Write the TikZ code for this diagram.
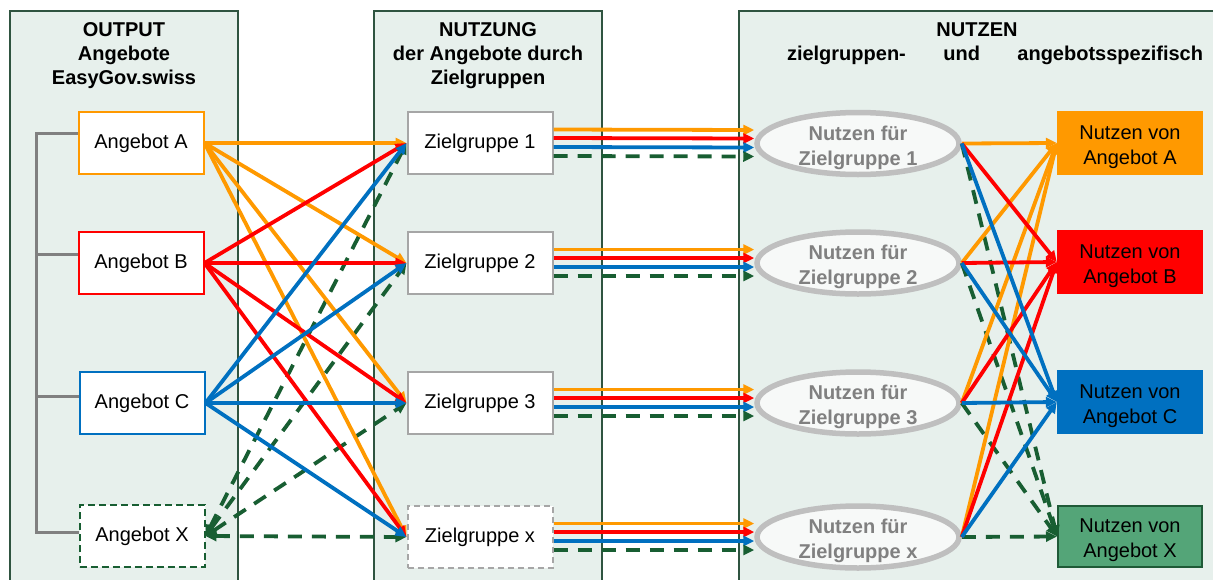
\documentclass[tikz,border=0pt]{standalone}
\usepackage{fontspec}
\setmainfont{Liberation Sans}
\usetikzlibrary{arrows.meta,shapes.geometric}
\definecolor{cOr}{RGB}{255,153,0}
\definecolor{cRd}{RGB}{255,0,0}
\definecolor{cBl}{RGB}{0,112,192}
\definecolor{cDg}{RGB}{24,94,50}
\definecolor{cPanel}{RGB}{231,240,236}
\definecolor{cPanelB}{RGB}{47,84,64}
\definecolor{cBr}{RGB}{128,128,128}
\definecolor{cZg}{RGB}{166,166,166}
\definecolor{cEl}{RGB}{191,191,191}
\definecolor{cElF}{RGB}{247,249,248}
\definecolor{cXf}{RGB}{84,165,120}
\definecolor{cXb}{RGB}{31,90,55}
\tikzset{
  fnt/.style={font=\fontsize{20}{24}\selectfont},
  panel/.style={fill=cPanel,draw=cPanelB,line width=1.6pt},
  title/.style={font=\fontsize{20}{24}\selectfont\bfseries,align=center,anchor=base,inner sep=0pt},
  angbox/.style={fnt,draw,fill=white,line width=2pt,minimum width=125pt,minimum height=62pt,inner sep=0pt},
  zgbox/.style={fnt,draw=cZg,fill=white,line width=2pt,minimum width=145pt,minimum height=62pt,inner sep=0pt},
  nbox/.style={minimum width=146pt,minimum height=64pt,inner sep=0pt},
  nell/.style={ellipse,draw=cEl,fill=cElF,line width=5.5pt,minimum width=202pt,minimum height=62pt,inner sep=0pt},
  nlbl/.style={font=\fontsize{20}{25}\selectfont,align=center,inner sep=0pt},
  elbl/.style={font=\fontsize{20}{25}\selectfont\bfseries,text=cBr,align=center,inner sep=0pt},
  arr/.style={line width=3.8pt,-{Triangle[length=11pt,width=10pt]}},
  darr/.style={line width=3.8pt,color=cDg,dash pattern=on 14pt off 10pt,-{Triangle[length=11pt,width=10pt]}},
  ddarr/.style={line width=3.8pt,color=cDg,dash pattern=on 14pt off 10pt,{Triangle[length=11pt,width=10pt]}-{Triangle[length=11pt,width=10pt]}},
  brk/.style={draw=cBr,line width=3pt}
}
\begin{document}
\begin{tikzpicture}[x=1pt,y=-1pt]
\useasboundingbox (0,0) rectangle (1213,579);
\clip (0,0) rectangle (1213,579);
% panels
\path[panel] (10,11) rectangle (238,600);
\path[panel] (374,11) rectangle (602,600);
\path[panel] (739,11) rectangle (1230,600);
% titles
\node[title] (t1) at (124,84) {OUTPUT\\Angebote\\EasyGov.swiss};
\node[title] (t2) at (488,84) {NUTZUNG\\der Angebote durch\\Zielgruppen};
\node[title] (t3) at (977,36) {NUTZEN};
\node[title] (t3b) at (995,60) {\makebox[416pt]{zielgruppen-\hfill und\hfill angebotsspezifisch}};
% angebot boxes
\node[angbox,draw=cOr] (aA) at (141,143) {Angebot A};
\node[angbox,draw=cRd] (aB) at (141,263) {Angebot B};
\node[angbox,draw=cBl] (aC) at (142,403) {Angebot C};
\node[angbox,draw=cDg,dash pattern=on 7pt off 4pt] (aX) at (142,536) {Angebot X};
% bracket
\coordinate (bt) at (36,133);
\coordinate (bb) at (36,532);
\draw[brk] (aA.west |- 0,133) -- (bt) -- (bb) -- (aX.west |- 0,532);
\draw[brk] (36,254) -- (aB.west |- 0,254);
\draw[brk] (36,396) -- (aC.west |- 0,396);
% zielgruppen
\node[zgbox] (z1) at (480,143) {Zielgruppe 1};
\node[zgbox] (z2) at (480,263) {Zielgruppe 2};
\node[zgbox] (z3) at (480,403) {Zielgruppe 3};
\node[zgbox,dash pattern=on 6pt off 4pt] (zx) at (480,537) {Zielgruppe x};
% ellipses
\node[nell] (e1) at (858,143.5) {};
\node[nell] (e2) at (858,263) {};
\node[nell] (e3) at (858,403) {};
\node[nell] (ex) at (858,537) {};
\node[elbl] (e1t) at ([yshift=-4pt]e1.center) {Nutzen für\\Zielgruppe 1};
\node[elbl] (e2t) at ([yshift=-4pt]e2.center) {Nutzen für\\Zielgruppe 2};
\node[elbl] (e3t) at ([yshift=-4pt]e3.center) {Nutzen für\\Zielgruppe 3};
\node[elbl] (ext) at ([yshift=-4pt]ex.center) {Nutzen für\\Zielgruppe x};
% nutzen boxes
\node[nbox,fill=cOr] (nA) at (1130,143) {};
\node[nbox,fill=cRd] (nB) at (1130,262) {};
\node[nbox,fill=cBl] (nC) at (1130,402) {};
\node[nbox,fill=cXf,draw=cXb,line width=2pt,minimum width=144pt,minimum height=61pt] (nX) at (1130,536.5) {};
\node[nlbl] (nAt) at ([yshift=-4pt]nA.center) {Nutzen von\\Angebot A};
\node[nlbl] (nBt) at ([yshift=-4pt]nB.center) {Nutzen von\\Angebot B};
\node[nlbl] (nCt) at ([yshift=-4pt]nC.center) {Nutzen von\\Angebot C};
\node[nlbl] (nXt) at ([yshift=-4pt]nX.center) {Nutzen von\\Angebot X};
% left connectors
\foreach \z in {z1,z2,z3,zx} \draw[ddarr] (aX.east) -- (\z.west);
\foreach \z in {z1,z2,z3,zx} \draw[arr,cOr] (aA.east) -- (\z.west);
\foreach \z in {z1,z2,z3,zx} \draw[arr,cRd] (aB.east) -- (\z.west);
\foreach \z in {z1,z2,z3,zx} \draw[arr,cBl] (aC.east) -- (\z.west);
% middle parallel connectors
\foreach \z/\e in {z1/e1,z2/e2,z3/e3,zx/ex}{
  \draw[arr,cOr] ([yshift=13.5pt]\z.east) -- ([yshift=13.5pt]\e.west);
  \draw[arr,cRd] ([yshift=5pt]\z.east) -- ([yshift=5pt]\e.west);
  \draw[arr,cBl] ([yshift=-4pt]\z.east) -- ([yshift=-4pt]\e.west);
  \draw[darr] ([yshift=-13pt]\z.east) -- ([yshift=-13pt]\e.west);
}
% right connectors
\foreach \e in {e1,e2,e3,ex} \draw[darr] (\e.east) -- (nX.west);
\foreach \e in {e1,e2,e3,ex} \draw[arr,cOr] (\e.east) -- (nA.west);
\foreach \e in {e1,e2,e3,ex} \draw[arr,cRd] (\e.east) -- (nB.west);
\foreach \e in {e1,e2,e3,ex} \draw[arr,cBl] (\e.east) -- (nC.west);
\end{tikzpicture}
\end{document}
